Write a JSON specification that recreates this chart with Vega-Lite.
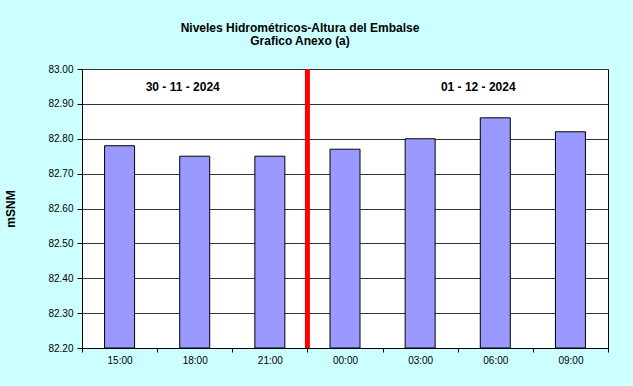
{
  "$schema": "https://vega.github.io/schema/vega-lite/v6.json",
  "width": 526,
  "height": 279,
  "autosize": {"type": "none"},
  "padding": {"left": 82, "top": 69, "right": 25, "bottom": 38},
  "background": "#CCFFFF",
  "title": {
    "text": ["Niveles Hidrométricos-Altura del Embalse", "Grafico Anexo (a)"],
    "fontSize": 12,
    "fontWeight": "bold",
    "font": "Liberation Sans",
    "color": "black",
    "anchor": "middle",
    "frame": "group",
    "dx": -45,
    "offset": 16,
    "lineHeight": 13
  },
  "config": {
    "view": {"fill": "white", "stroke": "black", "strokeWidth": 1},
    "font": "Liberation Sans",
    "axisY": {
      "title": "mSNM", "titleFontSize": 12, "titleFontWeight": "bold", "titleColor": "black",
      "titleX": -72, "titleY": 139.5, "titleBaseline": "middle", "titleAngle": -90,
      "values": [82.2, 82.3, 82.4, 82.5, 82.6, 82.7, 82.8, 82.9, 83.0],
      "labelOverlap": false, "tickCount": 9,
      "format": ".2f", "grid": true, "gridColor": "#333333", "gridWidth": 1,
      "tickSize": 5, "labelPadding": 4, "domainColor": "black", "tickColor": "black",
      "labelColor": "black", "labelFontSize": 10
    }
  },
  "datasets": {
    "levels": [
      {"hour": "15:00", "nivel": 82.78},
      {"hour": "18:00", "nivel": 82.75},
      {"hour": "21:00", "nivel": 82.75},
      {"hour": "00:00", "nivel": 82.77},
      {"hour": "03:00", "nivel": 82.80},
      {"hour": "06:00", "nivel": 82.86},
      {"hour": "09:00", "nivel": 82.82}
    ],
    "divider": [{"hour": "21:00"}],
    "day1": [{"hour": "18:00", "nivel": 82.948, "label": "30 - 11 - 2024"}],
    "day2": [{"hour": "06:00", "nivel": 82.948, "label": "01 - 12 - 2024"}]
  },
  "layer": [
    {
      "data": {"name": "levels"},
      "mark": {"type": "bar", "fill": "#9999FF", "stroke": "black", "strokeWidth": 1, "size": 30},
      "encoding": {
        "x": {
          "field": "hour", "type": "nominal", "sort": null,
          "scale": {"paddingInner": 0, "paddingOuter": 0},
          "axis": {
            "title": null, "labelAngle": 0, "tickBand": "extent", "tickSize": 4,
            "domainColor": "black", "tickColor": "black", "labelColor": "black",
            "labelFontSize": 10, "labelPadding": 3, "grid": false
          }
        },
        "y": {
          "field": "nivel", "type": "quantitative",
          "scale": {"domain": [82.2, 83.0], "zero": false, "nice": false},
          "axis": {
            "title": "mSNM",
            "values": [82.2, 82.3, 82.4, 82.5, 82.6, 82.7, 82.8, 82.9, 83.0],
            "labelOverlap": false
          }
        },
        "y2": {"datum": 82.2}
      }
    },
    {
      "data": {"name": "divider"},
      "mark": {"type": "rule", "color": "#FF0000", "strokeWidth": 5},
      "encoding": {
        "x": {"field": "hour", "type": "nominal", "sort": null, "bandPosition": 1}
      }
    },
    {
      "data": {"name": "day1"},
      "mark": {"type": "text", "fontWeight": "bold", "fontSize": 12, "letterSpacing": 0.3, "dx": -12, "baseline": "middle", "color": "black"},
      "encoding": {
        "x": {"field": "hour", "type": "nominal", "sort": null},
        "y": {"field": "nivel", "type": "quantitative", "axis": {"title": "mSNM", "values": [82.2, 82.3, 82.4, 82.5, 82.6, 82.7, 82.8, 82.9, 83.0], "labelOverlap": false}},
        "text": {"field": "label"}
      }
    },
    {
      "data": {"name": "day2"},
      "mark": {"type": "text", "fontWeight": "bold", "fontSize": 12, "letterSpacing": 0.3, "dx": -17, "baseline": "middle", "color": "black"},
      "encoding": {
        "x": {"field": "hour", "type": "nominal", "sort": null},
        "y": {"field": "nivel", "type": "quantitative", "axis": {"title": "mSNM", "values": [82.2, 82.3, 82.4, 82.5, 82.6, 82.7, 82.8, 82.9, 83.0], "labelOverlap": false}},
        "text": {"field": "label"}
      }
    }
  ]
}
